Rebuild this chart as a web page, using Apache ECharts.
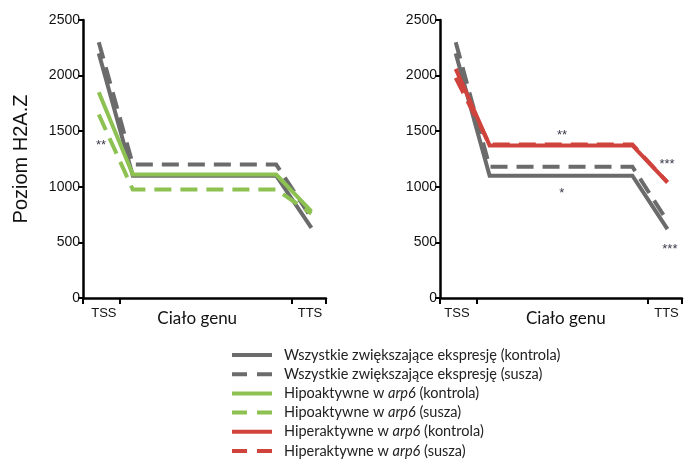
<!DOCTYPE html>
<html>
<head>
<meta charset="utf-8">
<script src="https://cdn.jsdelivr.net/npm/echarts@6/dist/echarts.min.js"></script>
<style>
  html, body { margin: 0; padding: 0; background: #fff; }
  #chart { width: 690px; height: 459px; }
</style>
</head>
<body>
<div id="chart"></div>
<script>
// Position of each profile point along the gene model (axis runs 0..100)
const genePos = [6.5, 20.5, 79.5, 94];

// H2A.Z level, left panel
const allUpCtrlL    = [2200, 1100, 1100, 630];
const allUpDroughtL = [2300, 1200, 1200, 720];
const hypoCtrl      = [1850, 1110, 1110, 780];
const hypoDrought   = [1650, 975, 975, 760];

// H2A.Z level, right panel
const allUpCtrlR    = [2200, 1100, 1100, 620];
const allUpDroughtR = [2300, 1180, 1180, 690];
const hyperCtrl     = [2060, 1372, 1372, 1040];
const hyperDrought  = [1980, 1380, 1380, 1040];

// Axis ticks and labels
const yMax = 2500;
const yStep = 500;
const xTickPos = [0, 15, 86, 100];
const xLabels = ['TSS', 'Ciało genu', 'TTS'];
const xLabelPosL = [8.6, 47, 93.4];
const xLabelPosR = [7, 52, 93.6];

// Significance marks: [x, y, text]
const marksL = [[7.4, 1395, '**']];
const marksR = [[50.4, 1488, '**'], [50.3, 967, '*'], [93.8, 1227, '***'], [95, 463, '***']];

const names = [
  'Wszystkie zwiększające ekspresję (kontrola)',
  'Wszystkie zwiększające ekspresję (susza)',
  'Hipoaktywne w arp6 (kontrola)',
  'Hipoaktywne w arp6 (susza)',
  'Hiperaktywne w arp6 (kontrola)',
  'Hiperaktywne w arp6 (susza)'
];

const GRAY = '#6b6b6b', GREEN = '#8dc152', RED = '#d0433d';
const SANS = 'Liberation Sans, Arial, sans-serif';
const HUMAN = 'Lato, Open Sans, sans-serif';
const DASH = [17, 9];

const chart = echarts.init(document.getElementById('chart'), null, { renderer: 'canvas' });

function pts(vals) { return genePos.map((x, i) => [x, vals[i]]); }

function line(name, vals, color, dashed, axis, marks) {
  const s = {
    name, type: 'line', xAxisIndex: axis, yAxisIndex: axis,
    data: pts(vals), symbol: 'none', color,
    lineStyle: { color, width: 4, type: dashed ? DASH : 'solid', cap: 'butt', join: 'miter' },
    silent: true
  };
  if (marks) {
    s.markPoint = {
      symbol: 'circle', symbolSize: 0, silent: true,
      label: { show: true, position: 'inside', formatter: '{b}', color: '#3a3a4a', fontSize: 13, fontFamily: SANS, offset: [0, 3] },
      data: marks.map(m => ({ coord: [m[0], m[1]], name: m[2] }))
    };
  }
  return s;
}

function xAxisFor(idx, labelPos) {
  return {
    type: 'value', gridIndex: idx, min: 0, max: 100,
    axisLine: { show: true, lineStyle: { color: '#000', width: 2.5 } },
    axisTick: { show: true, customValues: xTickPos, length: 6, lineStyle: { color: '#000', width: 2 } },
    splitLine: { show: false },
    axisLabel: {
      show: true, customValues: labelPos, margin: 8,
      formatter: v => {
        const i = labelPos.indexOf(v);
        if (i === 1) return '{mid|' + xLabels[i] + '}';
        return '{edge|' + xLabels[i] + '}';
      },
      rich: {
        edge: { fontFamily: SANS, fontSize: 13, color: '#111', lineHeight: 14 },
        mid: { fontFamily: HUMAN, fontSize: 17, color: '#111', lineHeight: 18, padding: [8, 0, 0, 0] }
      }
    }
  };
}

function yAxisFor(idx, withName) {
  const a = {
    type: 'value', gridIndex: idx, min: 0, max: yMax, interval: yStep,
    axisLine: { show: true, lineStyle: { color: '#000', width: 2.5 } },
    axisTick: { show: true, length: 5, lineStyle: { color: '#000', width: 2 } },
    splitLine: { show: false },
    axisLabel: { fontFamily: SANS, fontSize: 14, color: '#111', margin: 3, formatter: v => String(v) }
  };
  if (withName) {
    Object.assign(a, {
      name: 'Poziom H2A.Z', nameLocation: 'middle', nameRotate: 90, nameGap: 46,
      nameTextStyle: { fontFamily: SANS, fontSize: 20, color: '#111', padding: [0, 0, 6, 0] }
    });
  }
  return a;
}

const dashIcon = 'path://M0,0H15V4H0Z M25,0H40V4H25Z';
const solidIcon = 'path://M0,0H40V4H0Z';

chart.setOption({
  animation: false,
  backgroundColor: '#fff',
  grid: [
    { left: 83, top: 20, width: 243, height: 278 },
    { left: 440, top: 20, width: 242, height: 278 }
  ],
  xAxis: [xAxisFor(0, xLabelPosL), xAxisFor(1, xLabelPosR)],
  yAxis: [yAxisFor(0, true), yAxisFor(1, false)],
  legend: {
    orient: 'vertical', left: 232, top: 347, height: 130, width: 420,
    padding: 0,
    itemWidth: 40, itemHeight: 4, itemGap: 3.2,
    selectedMode: false,
    data: names.map((n, i) => ({ name: n, icon: i % 2 ? dashIcon : solidIcon })),
    itemStyle: { borderWidth: 0 },
    textStyle: {
      fontFamily: HUMAN, fontSize: 14.5, color: '#222', lineHeight: 16, padding: [0, 0, 0, 7],
      rich: { i: { fontFamily: HUMAN, fontSize: 14.5, color: '#222', fontStyle: 'italic', lineHeight: 16 } }
    },
    formatter: n => n.replace('arp6', '{i|arp6}')
  },
  series: [
    line(names[0], allUpCtrlL, GRAY, false, 0, marksL),
    line(names[1], allUpDroughtL, GRAY, true, 0),
    line(names[3], hypoDrought, GREEN, true, 0),
    line(names[2], hypoCtrl, GREEN, false, 0),
    line(names[0], allUpCtrlR, GRAY, false, 1, marksR),
    line(names[1], allUpDroughtR, GRAY, true, 1),
    line(names[5], hyperDrought, RED, true, 1),
    line(names[4], hyperCtrl, RED, false, 1)
  ]
});
</script>
</body>
</html>
